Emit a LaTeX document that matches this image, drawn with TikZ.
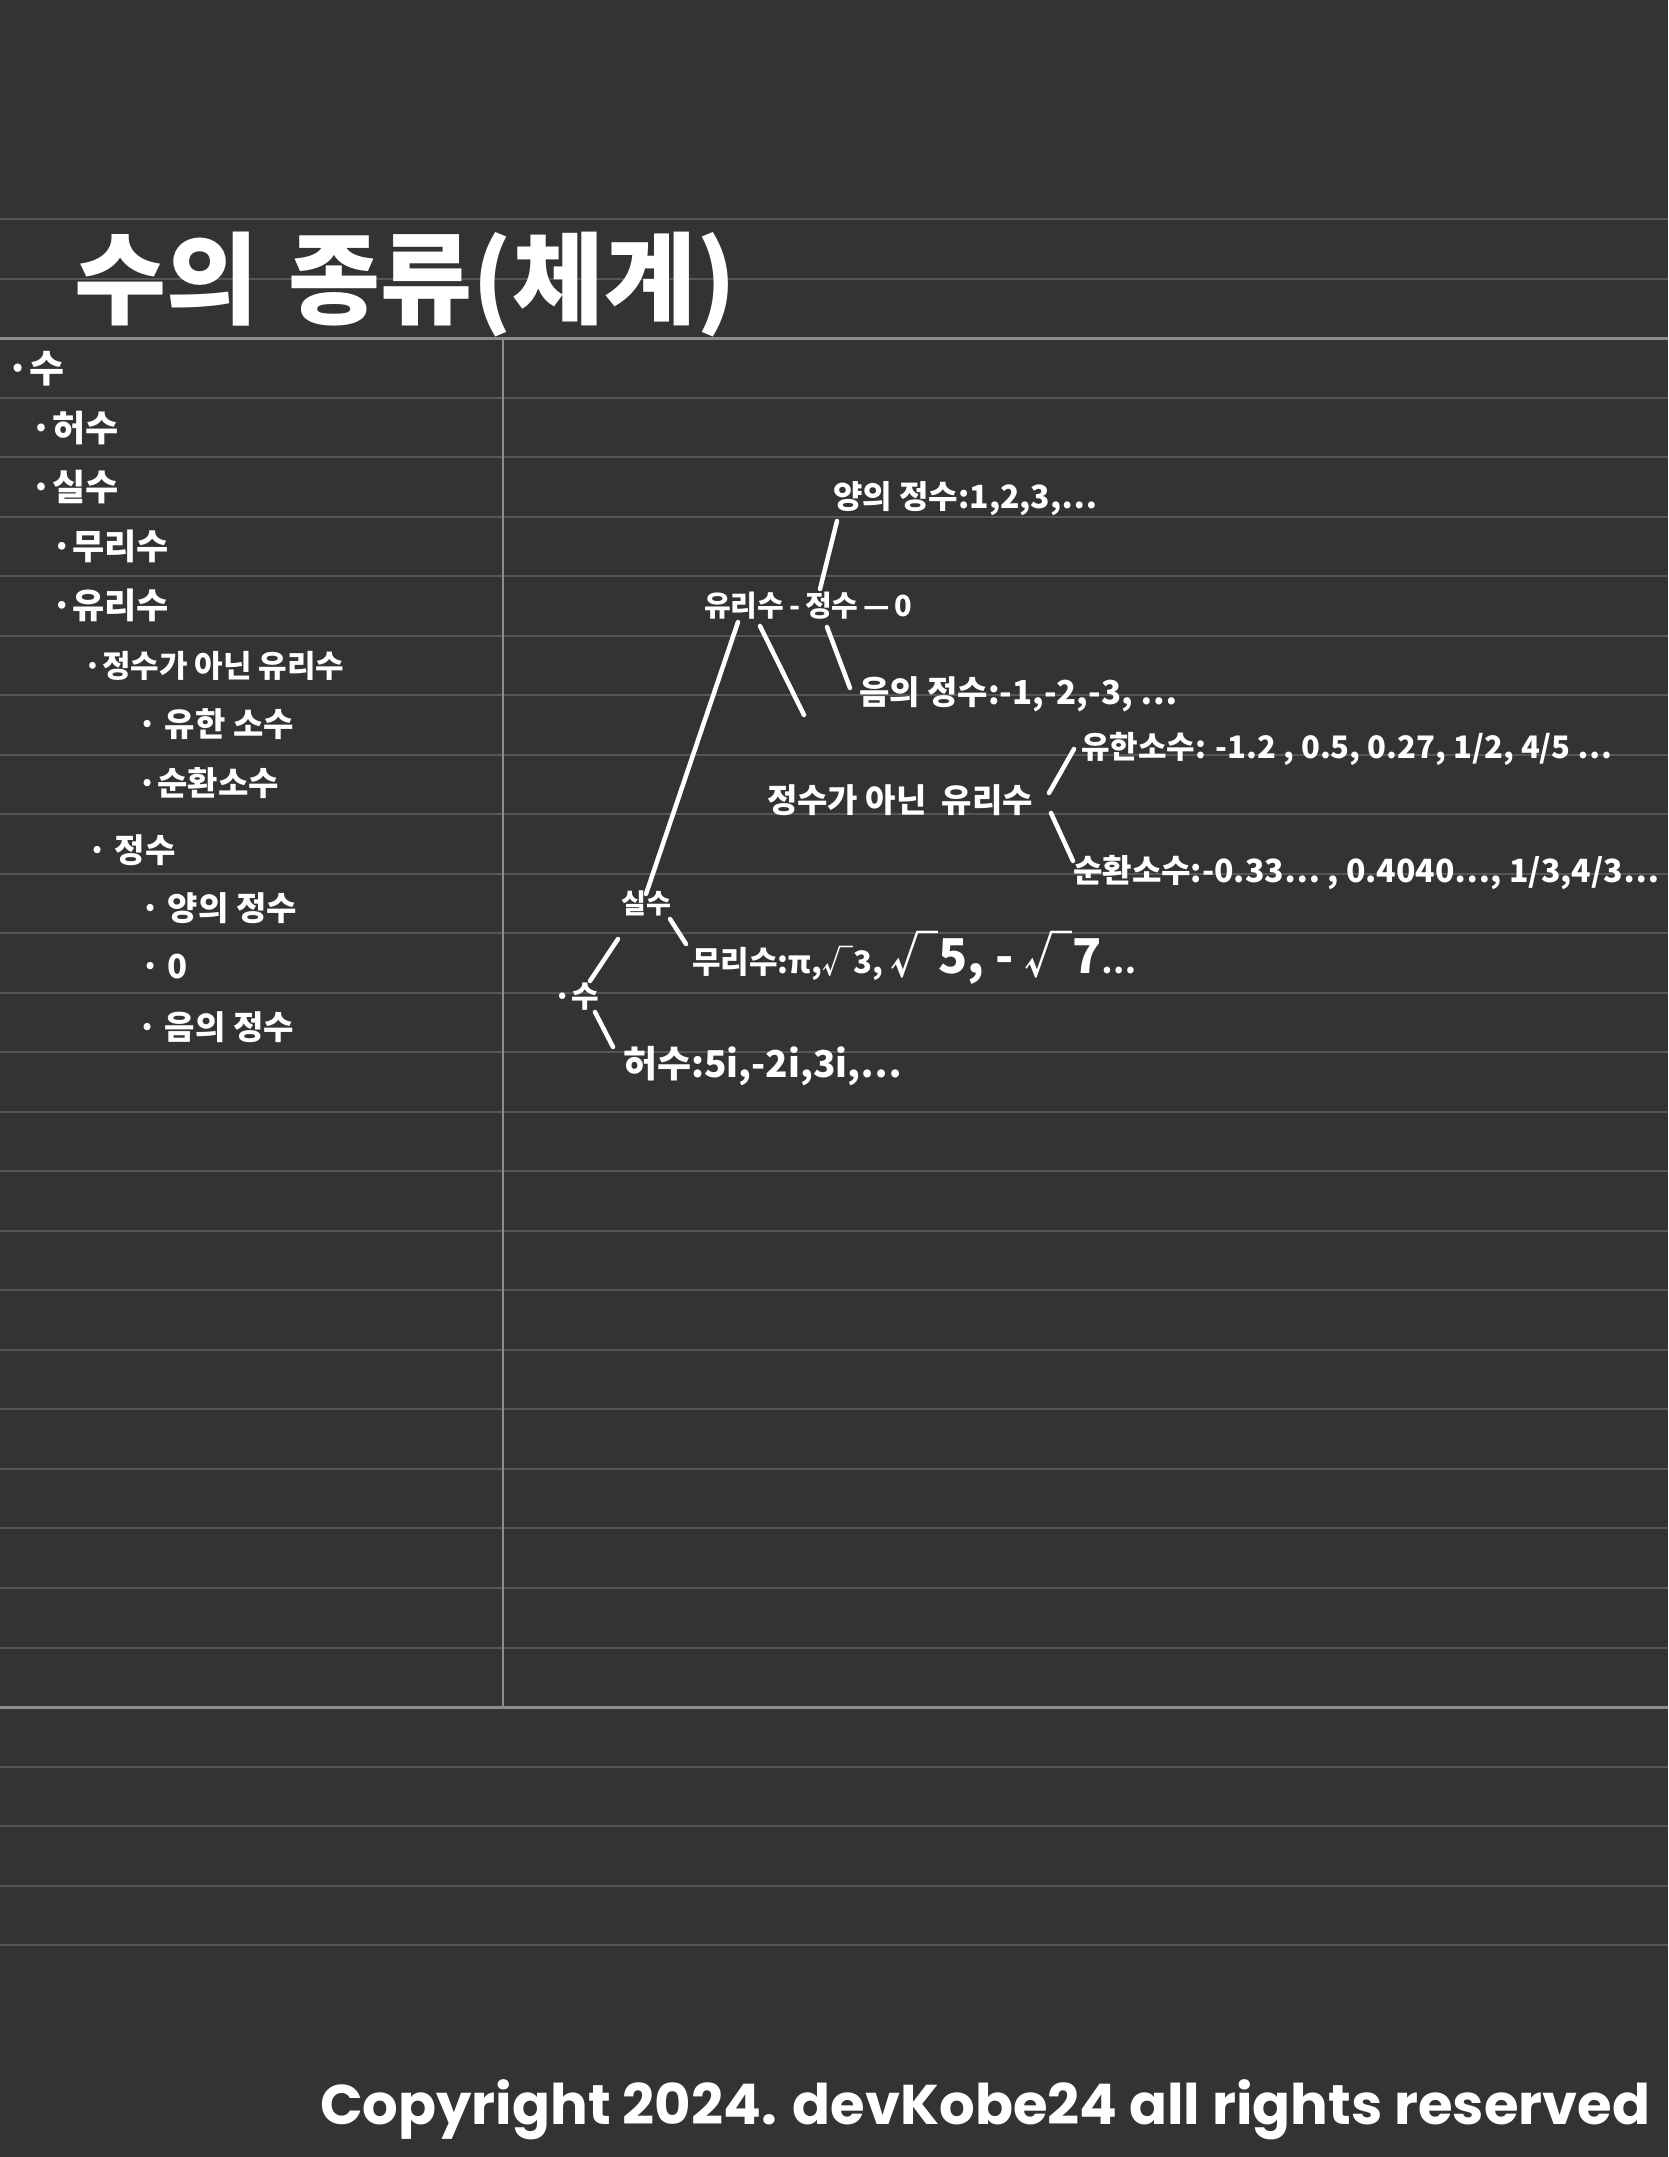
\documentclass[tikz,border=0pt]{standalone}
\usepackage{fontspec}
\newfontfamily\kr{Noto Sans CJK KR}
\newfontfamily\cpf{Poppins}
\newcommand\fsz[1]{\fontsize{#1}{#1}\selectfont}
\definecolor{bg}{HTML}{333333}
\definecolor{rule}{HTML}{565656}
\definecolor{frame}{HTML}{8C8C8C}
\tikzset{
  txt/.style={text=white, inner sep=0pt, anchor=west, font=\kr\bfseries},
  br/.style={draw=white, line width=4.5pt, line cap=round},
  thin/.style={draw=rule, line width=2pt},
  thick/.style={draw=frame, line width=3pt}
}
\begin{document}
\begin{tikzpicture}[x=1pt,y=-1pt]
\fill[bg] (0,0) rectangle (1668,2157);
\useasboundingbox (0,0) rectangle (1668,2157);
% ruled lines
\foreach \k in {0,1,3,4,5,6,7,8,9,10,11,12,13,14,15,16,17,18,19,20,21,22,23,24,26,27,28,29}
  \draw[thin] (0,{219+59.52*\k}) -- (1668,{219+59.52*\k});
\draw[thick] (0,338) -- (1668,338);
\draw[thick] (0,1707) -- (1668,1707);
\draw[draw=frame, line width=2pt] (503,338) -- (503,1707);
% title
\node[txt, font=\kr\bfseries\fsz{100}] (title) at (74,284) {수의\hspace{30pt}종류(체계)};
% left outline
\node[txt, font=\kr\bfseries\fsz{38}] (l1) at (6,369) {·수};
\node[txt, font=\kr\bfseries\fsz{36}] (l2) at (30,428) {·허수};
\node[txt, font=\kr\bfseries\fsz{36}] (l3) at (30,487) {·실수};
\node[txt, font=\kr\bfseries\fsz{35}] (l4) at (51,546) {·무리수};
\node[txt, font=\kr\bfseries\fsz{35}] (l5) at (51,605) {·유리수};
\node[txt, font=\kr\bfseries\fsz{31}] (l6) at (83,666) {·정수가 아닌 유리수};
\node[txt, font=\kr\bfseries\fsz{33}] (l7) at (137,724) {· 유한 소수};
\node[txt, font=\kr\bfseries\fsz{33}] (l8) at (137,783) {·순환소수};
\node[txt, font=\kr\bfseries\fsz{33}] (l9) at (87,850) {· 정수};
\node[txt, font=\kr\bfseries\fsz{33}] (l10) at (140,908) {· 양의 정수};
\node[txt, font=\kr\bfseries\fsz{33}] (l11) at (140,967) {· 0};
\node[txt, font=\kr\bfseries\fsz{33}] (l12) at (137,1027) {· 음의 정수};
% tree
\node[txt, font=\kr\bfseries\fsz{32}] (pos) at (833,499) {양의 정수:1,2,3,…};
\node[txt, font=\kr\bfseries\fsz{29}] (rz) at (704,606) {유리수\,-\,정수\,—\,0};
\node[txt, font=\kr\bfseries\fsz{33}] (neg) at (859,694) {음의 정수:-1,-2,-3, …};
\node[txt, font=\kr\bfseries\fsz{31}] (fin) at (1081,749) {유한소수: -1.2 , 0.5, 0.27, 1/2, 4/5 …};
\node[txt, font=\kr\bfseries\fsz{33}] (nonint) at (767,800) {정수가 아닌\ \ 유리수};
\node[txt, font=\kr\bfseries\fsz{32}] (rep) at (1073,873) {순환소수:-0.33… , 0.4040…, 1/3,4/3…};
\node[txt, font=\kr\bfseries\fsz{27}] (real) at (621,903) {실수};
\node[txt, font=\kr\bfseries\fsz{31}] (irr) at (692,958) {무리수:π,√3, {\fsz{48}√5, - √7}…};
\node[txt, font=\kr\bfseries\fsz{30}] (num) at (553,997) {·수};
\node[txt, font=\kr\bfseries\fsz{37}] (imag) at (623,1066) {허수:5i,-2i,3i,…};
% connector end points
\coordinate (p1) at (837,521); \coordinate (p2) at (820,589);
\coordinate (a1) at (738,622); \coordinate (a2) at (646,894);
\coordinate (b1) at (760,626); \coordinate (b2) at (804,715);
\coordinate (c1) at (827,627); \coordinate (c2) at (850,688);
\coordinate (d1) at (1049,793); \coordinate (d2) at (1074,749);
\coordinate (e1) at (1051,813); \coordinate (e2) at (1073,861);
\coordinate (f1) at (670,919); \coordinate (f2) at (686,944);
\coordinate (g1) at (618,939); \coordinate (g2) at (590,981);
\coordinate (h1) at (595,1012); \coordinate (h2) at (613,1047);
\draw[br] (p1) -- (p2);
\draw[br] (a1) -- (a2);
\draw[br] (b1) -- (b2);
\draw[br] (c1) -- (c2);
\draw[br] (d1) -- (d2);
\draw[br] (e1) -- (e2);
\draw[br] (f1) -- (f2);
\draw[br] (g1) -- (g2);
\draw[br] (h1) -- (h2);
% copyright
\node[txt, font=\cpf\bfseries\fsz{56}] (cp) at (320,2110) {Copyright 2024. devKobe24 all rights reserved};
\end{tikzpicture}
\end{document}
